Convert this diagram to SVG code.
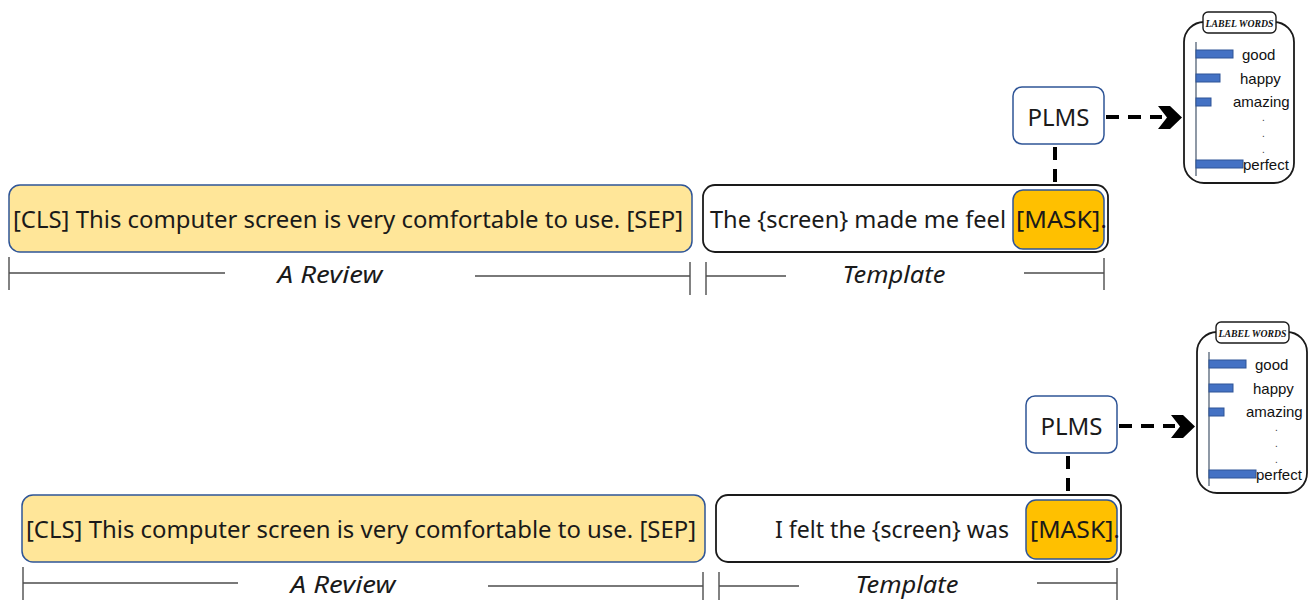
<svg xmlns="http://www.w3.org/2000/svg" width="1310" height="600" viewBox="0 0 1310 600">
  <defs>
    <style>
      .review { fill: #FFE699; stroke: #2F5597; stroke-width: 1.5; }
      .template { fill: #FFFFFF; stroke: #1A1A1A; stroke-width: 1.8; }
      .mask { fill: #FFC000; stroke: #2F5597; stroke-width: 1.5; }
      .plms { fill: #FFFFFF; stroke: #2F5597; stroke-width: 1.5; }
      .main { font-family: "Noto Sans", "Liberation Sans", sans-serif; font-size: 24px; fill: #1A1A1A; }
      .dim-label { font-family: "Noto Sans", "Liberation Sans", sans-serif; font-size: 24px; font-style: italic; fill: #1A1A1A; }
      .dim { stroke: #4D4D4D; stroke-width: 1.4; fill: none; }
      .dash { stroke: #000000; stroke-width: 4; stroke-dasharray: 13 9; fill: none; }
      .chev { fill: #000000; }
      .panel { fill: #FFFFFF; stroke: #1A1A1A; stroke-width: 1.8; }
      .tab { fill: #FFFFFF; stroke: #1A1A1A; stroke-width: 1.4; }
      .tab-text { font-family: "Liberation Serif", serif; font-size: 11px; font-style: italic; font-weight: bold; fill: #111111; }
      .axis { stroke: #44546A; stroke-width: 1.2; }
      .bar { fill: #4472C4; stroke: #2F5597; stroke-width: 1; }
      .word { font-family: "Liberation Sans", sans-serif; font-size: 15px; fill: #111111; }
      .dot { font-family: "Liberation Sans", sans-serif; font-size: 10px; fill: #333333; }
    </style>
  </defs>

  <!-- First prompt: "The {screen} made me feel [MASK]." -->
  <g id="panel-1">
    <g id="review-1">
      <rect class="review" x="9" y="185" width="683" height="67" rx="11"/>
      <text class="main" x="13" y="228" textLength="670" lengthAdjust="spacingAndGlyphs">[CLS] This computer screen is very comfortable to use. [SEP]</text>
    </g>
    <g id="template-1">
      <rect class="template" x="703" y="185" width="405" height="67" rx="12"/>
      <text class="main" x="710" y="228" textLength="296" lengthAdjust="spacingAndGlyphs">The {screen} made me feel</text>
    </g>
    <g id="mask-1">
      <rect class="mask" x="1013" y="190" width="91" height="59" rx="10"/>
      <text class="main" x="1016" y="228" textLength="91" lengthAdjust="spacingAndGlyphs">[MASK].</text>
    </g>
    <g id="plms-1">
      <rect class="plms" x="1013" y="87" width="91" height="57" rx="9"/>
      <text class="main" x="1058.5" y="126" text-anchor="middle">PLMS</text>
    </g>
    <g id="label-words-1">
      <rect class="panel" x="1184" y="22" width="110" height="161" rx="20"/>
      <rect class="tab" x="1203" y="12" width="73" height="21" rx="5"/>
      <text class="tab-text" x="1239.5" y="27" text-anchor="middle" textLength="68" lengthAdjust="spacingAndGlyphs">LABEL WORDS</text>
      <line class="axis" x1="1196" y1="42" x2="1196" y2="176"/>
      <rect class="bar" x="1196" y="50" width="37" height="8"/>
      <rect class="bar" x="1196" y="74" width="24" height="8"/>
      <rect class="bar" x="1196" y="98" width="15" height="8"/>
      <rect class="bar" x="1196" y="160" width="47" height="8"/>
      <text class="word" x="1242" y="60">good</text>
      <text class="word" x="1240" y="84">happy</text>
      <text class="word" x="1233" y="107">amazing</text>
      <text class="dot" x="1262" y="121">.</text>
      <text class="dot" x="1262" y="137">.</text>
      <text class="dot" x="1262" y="153">.</text>
      <text class="word" x="1243" y="170">perfect</text>
    </g>
    <g id="spans-1">
      <line class="dim" x1="9" y1="257" x2="9" y2="290"/>
      <line class="dim" x1="9" y1="273" x2="225" y2="273"/>
      <text class="dim-label" x="330" y="283" text-anchor="middle" textLength="105" lengthAdjust="spacingAndGlyphs">A Review</text>
      <line class="dim" x1="475" y1="276" x2="690" y2="276"/>
      <line class="dim" x1="690" y1="262" x2="690" y2="295"/>
      <line class="dim" x1="706" y1="262" x2="706" y2="295"/>
      <line class="dim" x1="706" y1="276" x2="786" y2="276"/>
      <text class="dim-label" x="894" y="283" text-anchor="middle" textLength="103" lengthAdjust="spacingAndGlyphs">Template</text>
      <line class="dim" x1="1024" y1="273" x2="1104" y2="273"/>
      <line class="dim" x1="1104" y1="258" x2="1104" y2="290"/>
    </g>
    <g id="connectors-1">
      <line class="dash" x1="1055" y1="147" x2="1055" y2="186"/>
      <line class="dash" x1="1106" y1="117" x2="1162" y2="117"/>
      <path class="chev" d="M1158 106 L1170 106 L1182 117.5 L1170 129 L1158 129 L1167 117.5 Z"/>
    </g>
  </g>

  <!-- Second prompt: "I felt the {screen} was [MASK]." -->
  <g id="panel-2" transform="translate(13 310)">
    <g id="review-2">
      <rect class="review" x="9" y="185" width="683" height="67" rx="11"/>
      <text class="main" x="13" y="228" textLength="670" lengthAdjust="spacingAndGlyphs">[CLS] This computer screen is very comfortable to use. [SEP]</text>
    </g>
    <g id="template-2">
      <rect class="template" x="703" y="185" width="405" height="67" rx="12"/>
      <text class="main" x="762" y="228" textLength="234" lengthAdjust="spacingAndGlyphs">I felt the {screen} was</text>
    </g>
    <g id="mask-2">
      <rect class="mask" x="1013" y="190" width="91" height="59" rx="10"/>
      <text class="main" x="1017" y="228" textLength="90" lengthAdjust="spacingAndGlyphs">[MASK].</text>
    </g>
    <g id="plms-2">
      <rect class="plms" x="1013" y="86" width="91" height="57" rx="9"/>
      <text class="main" x="1058.5" y="125" text-anchor="middle">PLMS</text>
    </g>
    <g id="label-words-2">
      <rect class="panel" x="1184" y="22" width="110" height="161" rx="20"/>
      <rect class="tab" x="1203" y="12" width="73" height="21" rx="5"/>
      <text class="tab-text" x="1239.5" y="27" text-anchor="middle" textLength="68" lengthAdjust="spacingAndGlyphs">LABEL WORDS</text>
      <line class="axis" x1="1196" y1="42" x2="1196" y2="176"/>
      <rect class="bar" x="1196" y="50" width="37" height="8"/>
      <rect class="bar" x="1196" y="74" width="24" height="8"/>
      <rect class="bar" x="1196" y="98" width="15" height="8"/>
      <rect class="bar" x="1196" y="160" width="47" height="8"/>
      <text class="word" x="1242" y="60">good</text>
      <text class="word" x="1240" y="84">happy</text>
      <text class="word" x="1233" y="107">amazing</text>
      <text class="dot" x="1262" y="121">.</text>
      <text class="dot" x="1262" y="137">.</text>
      <text class="dot" x="1262" y="153">.</text>
      <text class="word" x="1243" y="170">perfect</text>
    </g>
    <g id="spans-2">
      <line class="dim" x1="10" y1="257" x2="10" y2="290"/>
      <line class="dim" x1="10" y1="273" x2="225" y2="273"/>
      <text class="dim-label" x="330" y="283" text-anchor="middle" textLength="105" lengthAdjust="spacingAndGlyphs">A Review</text>
      <line class="dim" x1="475" y1="276" x2="690" y2="276"/>
      <line class="dim" x1="690" y1="262" x2="690" y2="295"/>
      <line class="dim" x1="706" y1="262" x2="706" y2="295"/>
      <line class="dim" x1="706" y1="276" x2="786" y2="276"/>
      <text class="dim-label" x="894" y="283" text-anchor="middle" textLength="103" lengthAdjust="spacingAndGlyphs">Template</text>
      <line class="dim" x1="1024" y1="273" x2="1104" y2="273"/>
      <line class="dim" x1="1104" y1="258" x2="1104" y2="290"/>
    </g>
    <g id="connectors-2">
      <line class="dash" x1="1055" y1="146" x2="1055" y2="186"/>
      <line class="dash" x1="1106" y1="116" x2="1162" y2="116"/>
      <path class="chev" d="M1158 105 L1170 105 L1182 116.5 L1170 128 L1158 128 L1167 116.5 Z"/>
    </g>
  </g>
</svg>
